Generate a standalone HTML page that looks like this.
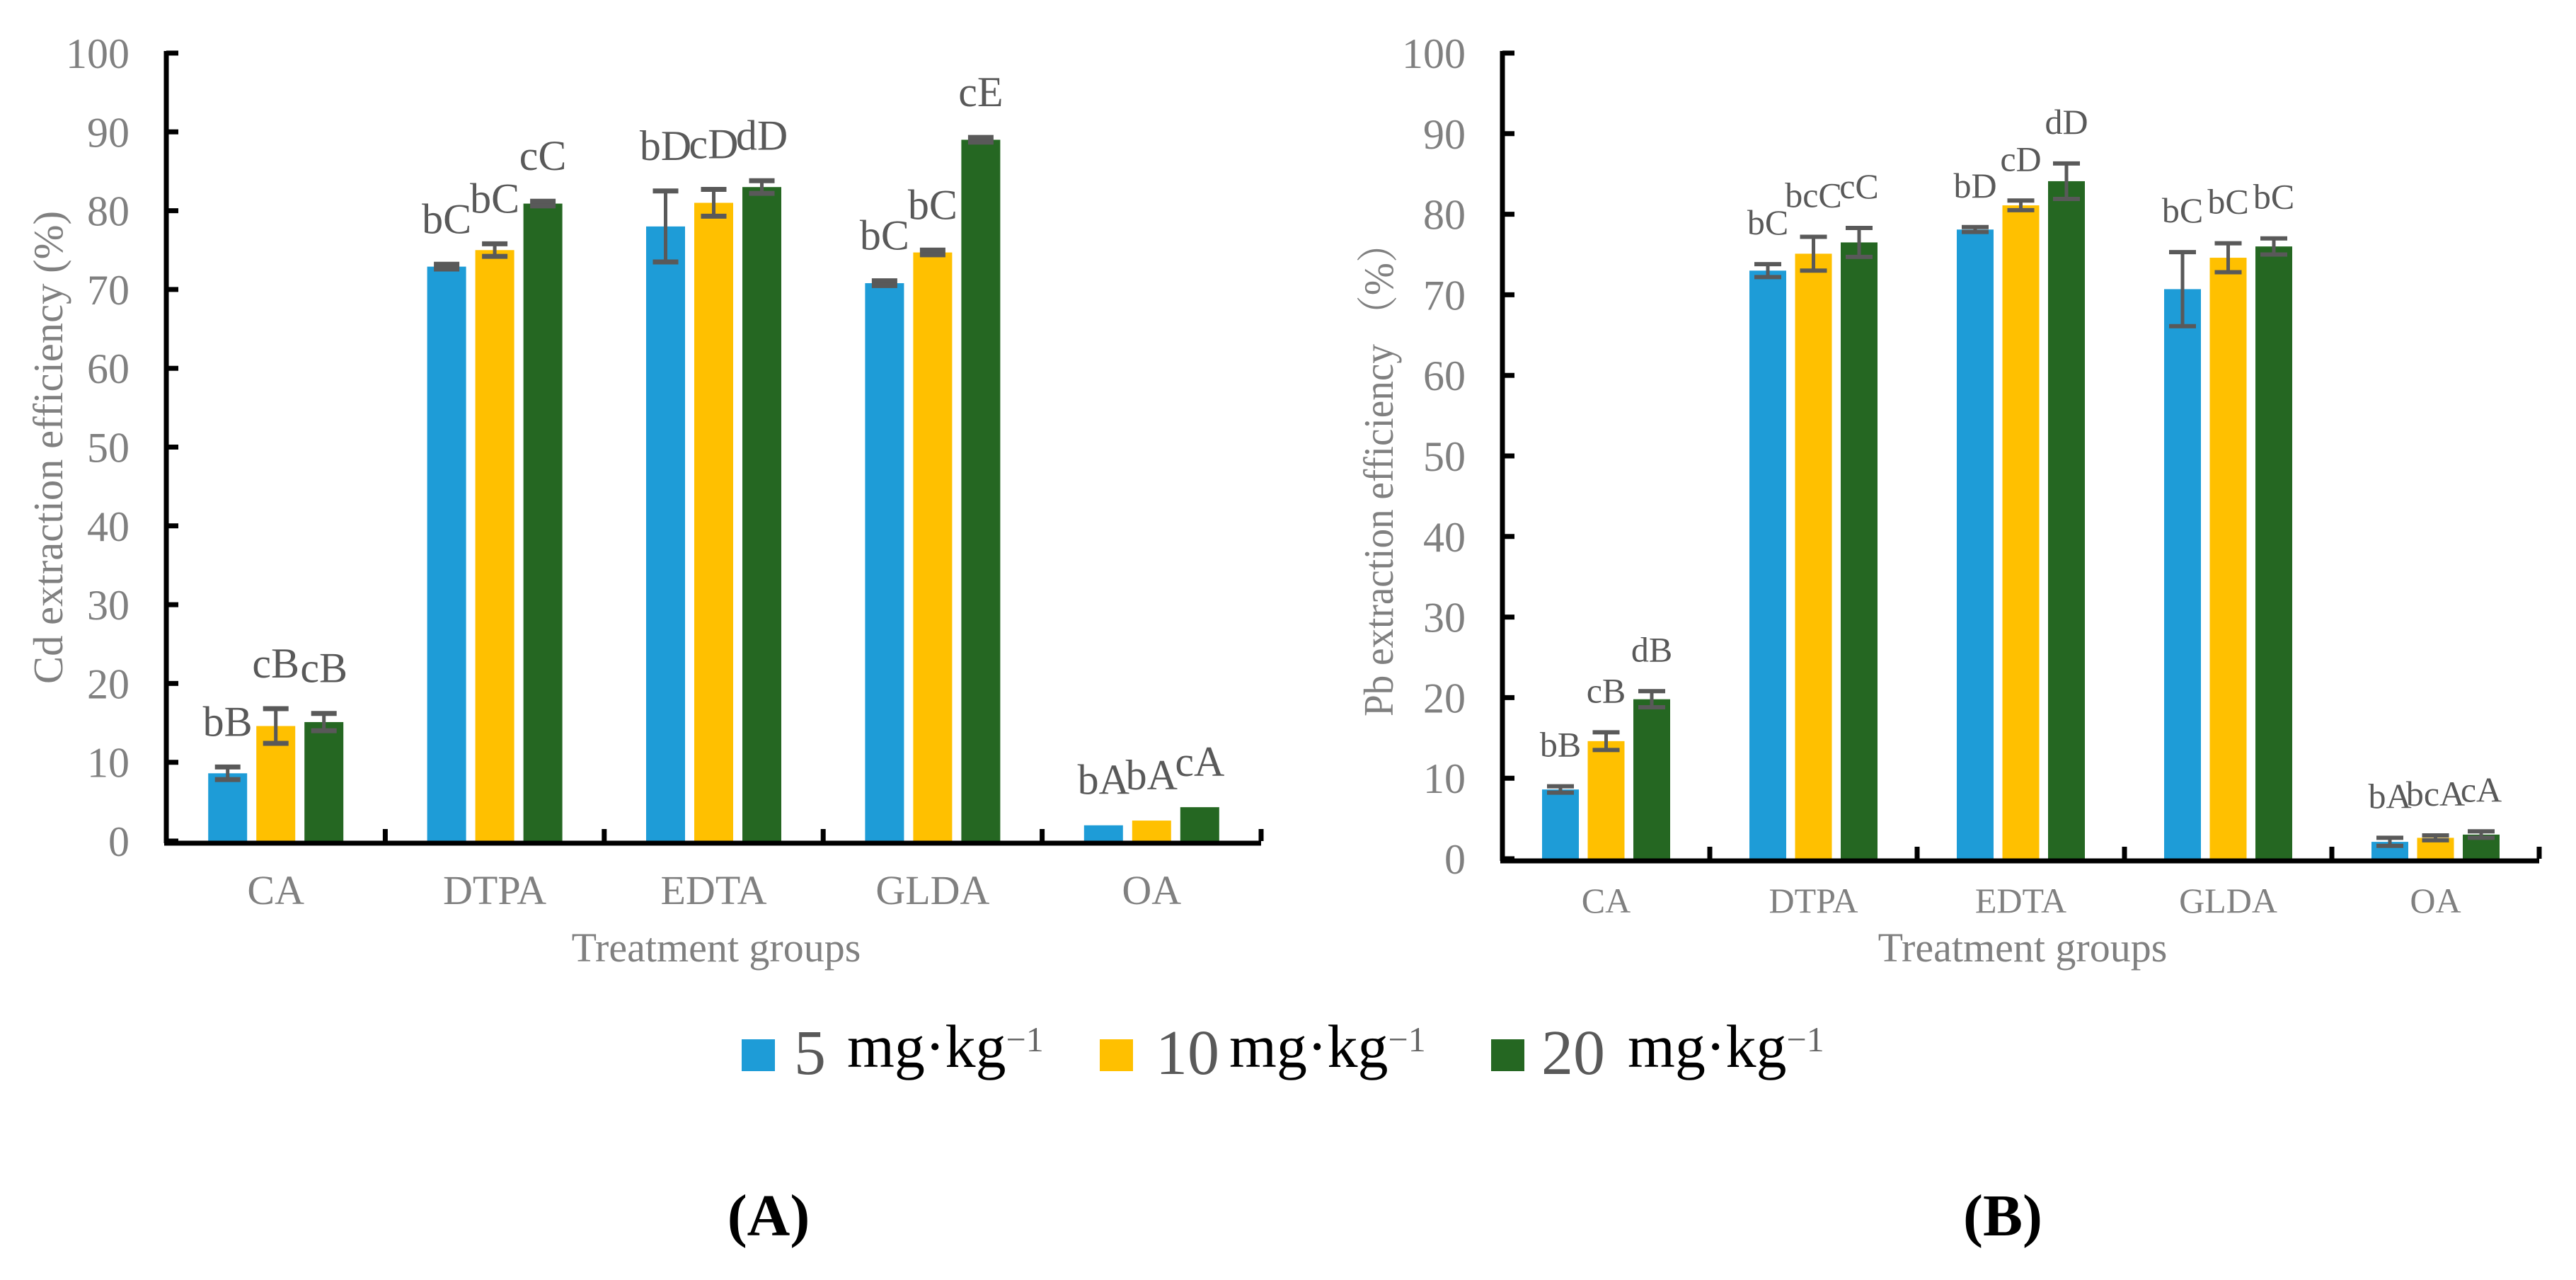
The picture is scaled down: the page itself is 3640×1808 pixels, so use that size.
<!DOCTYPE html>
<html><head><meta charset="utf-8"><style>
html,body{margin:0;padding:0;background:#fff}
svg{display:block}
</style></head>
<body>
<svg id="fig" width="3640" height="1808" viewBox="0 0 3640 1808" xmlns="http://www.w3.org/2000/svg">
<rect x="0" y="0" width="3640" height="1808" fill="#fff"/>
<g id="chartA"></g>
<g id="chartB"></g>
<g font-family="Liberation Serif, serif">
  <rect x="1048" y="1468" width="47" height="45" fill="#1E9CD7"/>
  <text x="1122" y="1517" font-size="90" fill="#595959">5</text>
  <text x="1197" y="1507" font-size="86" fill="#000">mg·kg<tspan font-size="50" dy="-22" fill="#666">−1</tspan></text>
  <rect x="1554" y="1468" width="47" height="45" fill="#FFC000"/>
  <text x="1633" y="1517" font-size="90" fill="#595959">10</text>
  <text x="1737" y="1507" font-size="86" fill="#000">mg·kg<tspan font-size="50" dy="-22" fill="#666">−1</tspan></text>
  <rect x="2107" y="1468" width="47" height="45" fill="#256722"/>
  <text x="2178" y="1517" font-size="90" fill="#595959">20</text>
  <text x="2300" y="1507" font-size="86" fill="#000">mg·kg<tspan font-size="50" dy="-22" fill="#666">−1</tspan></text>
</g>
<text x="1086" y="1745" font-size="84" font-weight="bold" text-anchor="middle" font-family="Liberation Serif, serif">(A)</text>
<text x="2830" y="1745" font-size="84" font-weight="bold" text-anchor="middle" font-family="Liberation Serif, serif">(B)</text>
</svg>
<script>
const categories = ["CA","DTPA","EDTA","GLDA","OA"];
const seriesNames = ["5 mg·kg−1","10 mg·kg−1","20 mg·kg−1"];
const yTicks = [0,10,20,30,40,50,60,70,80,90,100];
// Chart A (Cd)
const cd5 = [8.6, 72.9, 78.0, 70.8, 2.0];
const cd10 = [14.6, 75.0, 81.0, 74.7, 2.6];
const cd20 = [15.1, 80.9, 83.0, 89.0, 4.3];
const cdErr5 = [0.8, 0.3, 4.5, 0.3, 0];
const cdErr10 = [2.2, 0.8, 1.7, 0.3, 0];
const cdErr20 = [1.1, 0.3, 0.8, 0.3, 0];
const cdSig5 = ["bB","bC","bD","bC","bA"];
const cdSig10 = ["cB","bC","cD","bC","bA"];
const cdSig20 = ["cB","cC","dD","cE","cA"];
// Chart B (Pb)
const pb5 = [8.6, 73.0, 78.1, 70.7, 2.1];
const pb10 = [14.6, 75.1, 81.1, 74.6, 2.6];
const pb20 = [19.8, 76.5, 84.1, 76.0, 3.0];
const pbErr5 = [0.4, 0.8, 0.3, 4.6, 0.5];
const pbErr10 = [1.1, 2.1, 0.6, 1.8, 0.3];
const pbErr20 = [1.0, 1.8, 2.2, 1.0, 0.4];
const pbSig5 = ["bB","bC","bD","bC","bA"];
const pbSig10 = ["cB","bcC","cD","bC","bcA"];
const pbSig20 = ["dB","cC","dD","bC","cA"];

const colors = ["#1E9CD7","#FFC000","#256722"];
const NS = "http://www.w3.org/2000/svg";
function mk(parent, tag, attrs, text){
  const e = document.createElementNS(NS, tag);
  for (const k in attrs) e.setAttribute(k, attrs[k]);
  if (text !== undefined) e.textContent = text;
  parent.appendChild(e);
  return e;
}
function draw(g, cfg){
  const y = v => cfg.y0 - (v/100)*(cfg.y0 - cfg.y100);
  const xc = i => cfg.x0 + cfg.cw*(i+0.5);
  const font = "Liberation Serif, serif";
  yTicks.forEach(t=>{
    const tk = mk(g,"line",{x1:cfg.x0,x2:cfg.x0+17,y1:y(t),y2:y(t),stroke:"#000","stroke-width":7});
    
    
    const lb = mk(g,"text",{x:cfg.x0-52,y:y(t)+21,"font-size":60,"text-anchor":"end",fill:"#808080","font-family":font}, String(t));
    
    
  });
  const vals = cfg.vals, errs = cfg.errs, sigs = cfg.sigs;
  categories.forEach((c,i)=>{
    for (let s=0;s<3;s++){
      const v = vals[s][i], e = errs[s][i];
      const cx = xc(i) + (s-1)*cfg.off;
      const r = mk(g,"rect",{x:cx-cfg.bw/2,y:y(v),width:cfg.bw,height:cfg.y0-y(v),fill:colors[s]});
      
      
      if (e>0){
        const eg = mk(g,"g",{stroke:"#595959"});
        
        
        mk(eg,"line",{x1:cx,x2:cx,y1:y(v+e),y2:y(v-e),"stroke-width":5});
        mk(eg,"line",{x1:cx-cfg.cap/2,x2:cx+cfg.cap/2,y1:y(v+e),y2:y(v+e),"stroke-width":cfg.capw});
        mk(eg,"line",{x1:cx-cfg.cap/2,x2:cx+cfg.cap/2,y1:y(v-e),y2:y(v-e),"stroke-width":cfg.capw});
      }
      const t = mk(g,"text",{x:cx,y:y(v+e)-cfg.gap,"font-size":cfg.sigSize,"text-anchor":"middle",fill:"#595959","font-family":font}, sigs[s][i]);
      
      
    }
    const cl = mk(g,"text",{x:xc(i),y:cfg.catY,"font-size":cfg.catSize,"text-anchor":"middle",fill:"#808080","font-family":font}, c);
    
    
    const xt = mk(g,"line",{x1:cfg.x0+cfg.cw*(i+1),x2:cfg.x0+cfg.cw*(i+1),y1:cfg.y0,y2:cfg.y0-17,stroke:"#000","stroke-width":7});
    
    
  });
  const ya = mk(g,"line",{x1:cfg.x0,x2:cfg.x0,y1:cfg.y100-3,y2:cfg.y0+3,stroke:"#000","stroke-width":7});
  
  
  const xa = mk(g,"line",{x1:cfg.x0-3,x2:cfg.x0+cfg.cw*5,y1:cfg.y0+3,y2:cfg.y0+3,stroke:"#000","stroke-width":7});
  
  
  const xtTitle = mk(g,"text",{x:cfg.xtX,y:1358,"font-size":58,"text-anchor":"middle",fill:"#808080","font-family":font}, "Treatment groups");
  
  
  const ytTitle = mk(g,"text",{x:0,y:0,"font-size":59,"text-anchor":"middle",fill:"#808080","font-family":"Liberation Serif, Noto Serif CJK SC, serif",
    transform:"translate("+cfg.ytX+","+cfg.ytY+") rotate(-90)",textLength:cfg.ytLen,lengthAdjust:"spacingAndGlyphs"}, cfg.ytText);
  
  
}
draw(document.getElementById('chartA'), {
  x0:235, cw:309.4, y0:1188, y100:75, bw:55, off:68, cap:36, capw:7, gap:44, sigSize:60,
  catY:1277, catSize:58, xtX:1012, ytX:88, ytY:632, ytLen:668, ytText:"Cd extraction efficiency (%)",
  vals:[cd5,cd10,cd20], errs:[cdErr5,cdErr10,cdErr20], sigs:[cdSig5,cdSig10,cdSig20]
});
draw(document.getElementById('chartB'), {
  x0:2123, cw:293, y0:1213, y100:75, bw:52, off:64.5, cap:38, capw:6, gap:42, sigSize:50,
  catY:1289, catSize:50, xtX:2858, ytX:1968, ytY:664, ytLen:696, ytText:"Pb  extraction efficiency （%）",
  vals:[pb5,pb10,pb20], errs:[pbErr5,pbErr10,pbErr20], sigs:[pbSig5,pbSig10,pbSig20]
});
</script>
</body></html>
